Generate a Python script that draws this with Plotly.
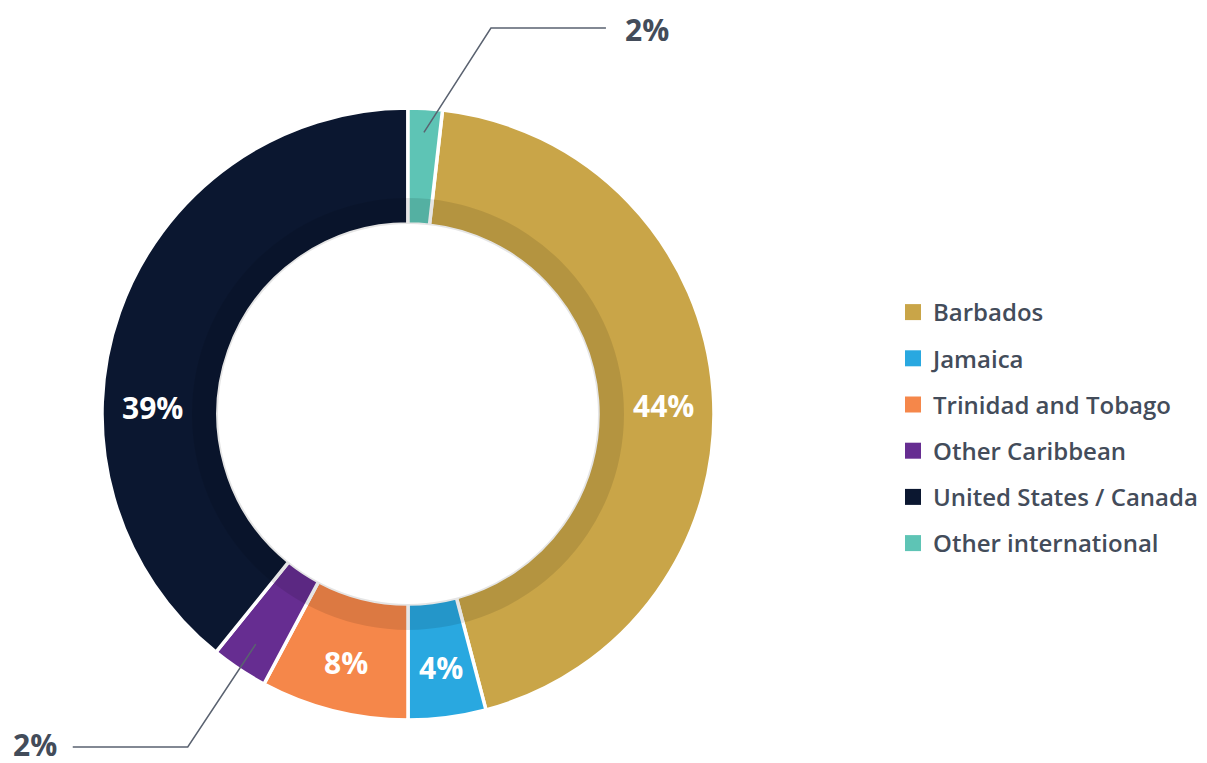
import math
import plotly.graph_objects as go

# ---- data ----
categories = ["Barbados", "Jamaica", "Trinidad and Tobago", "Other Caribbean",
              "United States / Canada", "Other international"]
shares = [44.1, 4.1, 7.8, 3.0, 39.2, 1.8]
share_labels = ["44%", "4%", "8%", "2%", "39%", "2%"]
colors = ["#C9A548", "#29A8E0", "#F5874A", "#662D91", "#0B1730", "#5EC4B5"]

# ---- layout params ----
PAGE_MARGIN = 8                      # default body margin of the html page
W, H = 1207 - PAGE_MARGIN, 763 - PAGE_MARGIN
CX, CY, R = 408, 414, 306            # donut centre / outer radius in window px
HOLE_R = 190
SHADOW_R = 216
START_DEG = shares[-1] / sum(shares) * 360  # first slice starts after "Other international"
FONT = "Open Sans"
TEXT_COL = "#434C5A"
LINE_COL = "#5A6270"

def px2paper(x, y):
    return (x - PAGE_MARGIN) / W, (H - (y - PAGE_MARGIN)) / H

def dom(r):
    x0, y0 = px2paper(CX - r, CY + r)
    x1, y1 = px2paper(CX + r, CY - r)
    return dict(x=[x0, x1], y=[y0, y1])

fig = go.Figure()

fig.add_trace(go.Pie(
    labels=categories, values=shares, sort=False, direction="clockwise",
    rotation=START_DEG, hole=HOLE_R / R,
    marker=dict(colors=colors, line=dict(color="white", width=3.5)),
    textinfo="none", hoverinfo="label+percent", showlegend=False,
    domain=dom(R),
))

# inner shadow ring
fig.add_trace(go.Pie(
    values=[1], sort=False, hole=HOLE_R / SHADOW_R, textinfo="none",
    marker=dict(colors=["rgba(0,0,0,0.10)"], line=dict(width=0)),
    hoverinfo="skip", showlegend=False, domain=dom(SHADOW_R),
))

# legend entries
for name, col in zip(categories, colors):
    fig.add_trace(go.Scatter(
        x=[None], y=[None], mode="markers", name=name, legendgroup=name,
        marker=dict(symbol="square", size=16, color=col),
    ))

# slice mid angles (clockwise from 12 o'clock)
total = sum(shares)
mids = []
acc = START_DEG
for v in shares:
    ang = v / total * 360
    mids.append(acc + ang / 2)
    acc += ang

def polar(deg, r):
    a = math.radians(deg)
    return CX + r * math.sin(a), CY - r * math.cos(a)

annotations = []
shapes = []
label_angle_override = {0: 88.2, 4: 271.4}
outside = {3, 5}
for i, (lab, m) in enumerate(zip(share_labels, mids)):
    if i in outside:
        continue
    deg = label_angle_override.get(i, m)
    x, y = polar(deg, 256)
    px, py = px2paper(x, y)
    annotations.append(dict(x=px, y=py, xref="paper", yref="paper", text=f"<b>{lab}</b>",
                            showarrow=False, xanchor="center", yanchor="middle",
                            font=dict(family=FONT, size=30, color="white")))

def leader(idx, r, dx, ey, hlen, side, text_dy):
    sx, sy = polar(mids[idx], r)
    ex = sx + dx
    hx = ex + hlen
    p = [px2paper(*pt) for pt in [(sx, sy), (ex, ey), (hx, ey)]]
    shapes.append(dict(type="path", xref="paper", yref="paper",
                       path=f"M{p[0][0]},{p[0][1]} L{p[1][0]},{p[1][1]} L{p[2][0]},{p[2][1]}",
                       line=dict(color=LINE_COL, width=1.5)))
    gap = 17 if side == "left" else -14
    tx, ty = px2paper(hx + gap, ey + text_dy)
    annotations.append(dict(x=tx, y=ty, xref="paper", yref="paper",
                            text="<b>%s</b>" % share_labels[idx],
                            showarrow=False, xanchor=side, yanchor="middle", height=34,
                            font=dict(family=FONT, size=30, color=TEXT_COL)))

leader(5, 282, 67, 28, 115, "left", 1)      # Other international (top)
leader(3, 276, -68, 747, -115, "right", -3) # Other Caribbean (bottom-left)

lx, ly = px2paper(893, 428)
fig.update_layout(
    width=W, height=H, margin=dict(l=0, r=0, t=0, b=0),
    paper_bgcolor="white", plot_bgcolor="white",
    xaxis=dict(visible=False), yaxis=dict(visible=False),
    showlegend=True,
    legend=dict(x=lx, y=ly, xanchor="left", yanchor="middle", traceorder="grouped",
                tracegroupgap=12,
                font=dict(family=FONT, size=24, color=TEXT_COL, weight=600),
                bgcolor="rgba(0,0,0,0)"),
    annotations=annotations, shapes=shapes,
    font=dict(family=FONT),
)

fig.write_html("out.html")
